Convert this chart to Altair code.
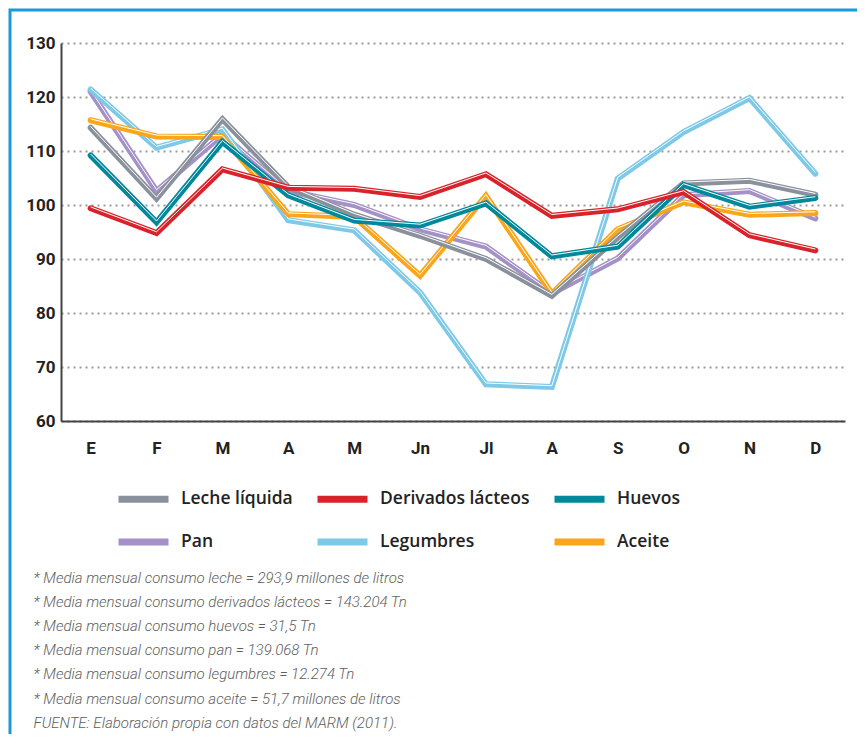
import altair as alt
import pandas as pd

# ---- data ----
month_labels = ["E", "F", "M", "A", "M", "Jn", "Jl", "A", "S", "O", "N", "D"]
series_names = ["Leche líquida", "Derivados lácteos", "Huevos", "Pan", "Legumbres", "Aceite"]
series_colors = ["#8a919d", "#d9232b", "#00889b", "#a491c8", "#7dc9e7", "#f9a61c"]

leche = [114.3, 101.2, 115.9, 103.3, 98.2, 94.3, 90.0, 83.2, 94.0, 104.0, 104.5, 101.9]
derivados = [99.4, 94.8, 106.6, 103.2, 103.0, 101.5, 105.7, 98.0, 99.2, 102.4, 94.4, 91.6]
huevos = [109.2, 96.8, 111.7, 101.8, 97.1, 96.2, 100.3, 90.5, 92.3, 103.7, 99.7, 101.3]
pan = [121.0, 102.6, 113.0, 102.6, 100.0, 95.5, 92.3, 83.6, 90.1, 101.8, 102.6, 97.5]
legumbres = [121.4, 110.6, 114.0, 97.2, 95.3, 83.8, 66.8, 66.3, 104.9, 113.5, 119.8, 105.8]
aceite = [115.7, 112.7, 112.6, 98.3, 97.8, 86.9, 101.7, 83.6, 95.5, 100.5, 98.2, 98.5]

values_by_series = {
    "Leche líquida": leche,
    "Derivados lácteos": derivados,
    "Huevos": huevos,
    "Pan": pan,
    "Legumbres": legumbres,
    "Aceite": aceite,
}
# drawing order (bottom to top)
draw_order = ["Pan", "Legumbres", "Aceite", "Leche líquida", "Huevos", "Derivados lácteos"]

y_ticks = [60, 70, 80, 90, 100, 110, 120, 130]

footnotes = [
    "* Media mensual consumo leche = 293,9 millones de litros",
    "* Media mensual consumo derivados lácteos = 143.204 Tn",
    "* Media mensual consumo huevos = 31,5 Tn",
    "* Media mensual consumo pan = 139.068 Tn",
    "* Media mensual consumo legumbres = 12.274 Tn",
    "* Media mensual consumo aceite = 51,7 millones de litros",
    "FUENTE: Elaboración propia con datos del MARM (2011).",
]

FONT = "Roboto"
label_expr = "[" + ",".join("'%s'" % m for m in month_labels) + "][datum.value]"

x_enc = alt.X(
    "idx:O",
    scale=alt.Scale(type="point", padding=0.45),
    axis=alt.Axis(
        labelExpr=label_expr,
        labelAngle=0,
        labelFont=FONT,
        labelFontSize=17,
        labelFontWeight="bold",
        labelColor="#222222",
        labelPadding=19,
        ticks=False,
        grid=False,
        domainColor="#444444",
        domainWidth=2,
        title=footnotes,
        titleFont=FONT,
        titleFontSize=15,
        titleFontStyle="italic",
        titleFontWeight=300,
        titleColor="#5e5e5e",
        titleLineHeight=24.2,
        titleAnchor="start",
        titleAlign="left",
        titleBaseline="top",
        titleX=-28,
        titleY=149,
    ),
)
y_enc = alt.Y(
    "v:Q",
    scale=alt.Scale(domain=[60, 130], nice=False, zero=False),
    axis=alt.Axis(
        values=y_ticks,
        labelFont=FONT,
        labelFontSize=17,
        labelFontWeight="bold",
        labelColor="#222222",
        labelPadding=6,
        ticks=False,
        domainColor="#444444",
        domainWidth=2,
        grid=True,
        gridColor="#9a9a9a",
        gridDash=[2, 4],
        gridWidth=2,
        title=None,
    ),
)
color_enc = alt.Color(
    "serie:N",
    scale=alt.Scale(domain=series_names, range=series_colors),
    legend=alt.Legend(
        title=None,
        orient="none",
        legendX=54,
        legendY=448,
        direction="horizontal",
        columns=3,
        symbolType="stroke",
        symbolSize=2500,
        symbolStrokeWidth=7,
        clipHeight=16,
        rowPadding=25,
        columnPadding=21,
        labelOffset=9,
        labelFont="Open Sans",
        labelFontSize=17.5,
        labelFontWeight=600,
        labelColor="#222222",
    ),
)

# frame around the whole figure (decoration)
frame = alt.Chart(pd.DataFrame({"a": [0]})).mark_rect(
    fill=None, stroke="#1b9ad6", strokeWidth=3
).encode(x=alt.value(-51), x2=alt.value(900), y=alt.value(-33), y2=alt.value(800))

layers = [frame]
for name in draw_order:
    df = pd.DataFrame({
        "idx": list(range(len(month_labels))),
        "v": values_by_series[name],
        "serie": [name] * len(month_labels),
    })
    base = alt.Chart(df)
    layers.append(
        base.mark_line(strokeWidth=6, strokeJoin="miter", strokeCap="round").encode(
            x=x_enc, y=y_enc, color=color_enc
        )
    )
    layers.append(
        base.mark_line(strokeWidth=1, color="white", yOffset=-1.3, strokeJoin="miter").encode(
            x=x_enc, y=y_enc
        )
    )

chart = alt.layer(*layers).properties(
    width=784,
    height=378,
    autosize=alt.AutoSizeParams(type="none"),
    padding={"left": 53, "top": 35, "right": 12, "bottom": 313},
    background="white",
).configure_view(stroke=None)

chart.save("out.html", embed_options={"renderer": "svg", "actions": False})
